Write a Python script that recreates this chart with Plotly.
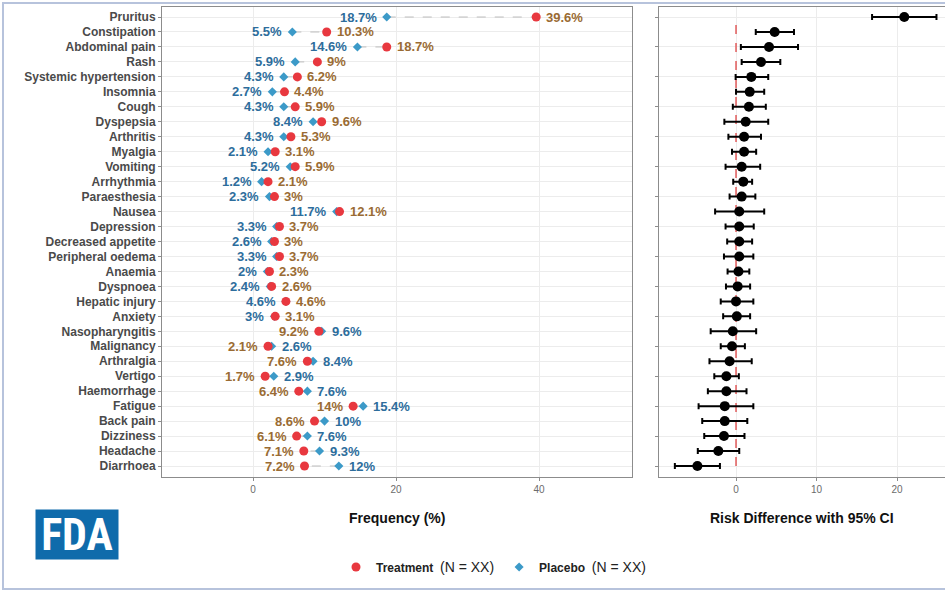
import plotly.graph_objects as go

# Adverse events, listed top to bottom
events = ["Pruritus", "Constipation", "Abdominal pain", "Rash", "Systemic hypertension",
          "Insomnia", "Cough", "Dyspepsia", "Arthritis", "Myalgia", "Vomiting",
          "Arrhythmia", "Paraesthesia", "Nausea", "Depression", "Decreased appetite",
          "Peripheral oedema", "Anaemia", "Dyspnoea", "Hepatic injury", "Anxiety",
          "Nasopharyngitis", "Malignancy", "Arthralgia", "Vertigo", "Haemorrhage",
          "Fatigue", "Back pain", "Dizziness", "Headache", "Diarrhoea"]

# Frequency (%) by arm
treatment = [39.6, 10.3, 18.7, 9, 6.2, 4.4, 5.9, 9.6, 5.3, 3.1, 5.9, 2.1, 3, 12.1, 3.7, 3,
             3.7, 2.3, 2.6, 4.6, 3.1, 9.2, 2.1, 7.6, 1.7, 6.4, 14, 8.6, 6.1, 7.1, 7.2]
placebo = [18.7, 5.5, 14.6, 5.9, 4.3, 2.7, 4.3, 8.4, 4.3, 2.1, 5.2, 1.2, 2.3, 11.7, 3.3, 2.6,
           3.3, 2, 2.4, 4.6, 3, 9.6, 2.6, 8.4, 2.9, 7.6, 15.4, 10, 7.6, 9.3, 12]

# 95% confidence limits of the risk difference (treatment - placebo)
ci_low = [16.9, 2.45, 0.6, 0.7, -0.05, 0.0, -0.4, -1.45, -0.95, -0.5, -1.3, -0.35, -0.8,
          -2.6, -1.3, -1.1, -1.5, -1.05, -1.25, -1.9, -1.6, -3.15, -1.9, -3.3, -2.7, -3.5,
          -4.65, -4.2, -3.95, -4.75, -7.6]
ci_high = [24.9, 7.2, 7.7, 5.5, 4.0, 3.5, 3.7, 4.0, 3.1, 2.5, 3.0, 2.0, 2.4, 3.5, 2.2, 2.0,
           2.15, 1.65, 1.75, 2.15, 1.75, 2.5, 1.1, 1.95, 0.35, 1.3, 2.15, 1.4, 1.05, 0.4, -2.0]

risk_diff = [round(t - p, 2) for t, p in zip(treatment, placebo)]

FONT = "Liberation Sans, Arial, sans-serif"
RED = "#e8383f"
BLUE = "#3c9ac8"
LBL_T = "#9a6b33"
LBL_P = "#2d6d9c"
W, H = 945, 594


def px(x):
    return x / W


def py(y):
    return 1 - y / H


fig = go.Figure()

# dashed connectors between the two arms
cx, cy = [], []
for e, t, p in zip(events, treatment, placebo):
    cx += [p, t, None]
    cy += [e, e, None]
fig.add_trace(go.Scatter(x=cx, y=cy, mode="lines", showlegend=False, hoverinfo="skip",
                         line=dict(color="#bdbdbd", width=1, dash="dash"),
                         xaxis="x", yaxis="y"))

fig.add_trace(go.Scatter(x=placebo, y=events, mode="markers", xaxis="x", yaxis="y",
                         name="<b>Placebo</b>  <span style='font-size:14px;font-weight:normal'>(N = XX)</span>",
                         marker=dict(symbol="diamond", size=7, color=BLUE)))
fig.add_trace(go.Scatter(x=treatment, y=events, mode="markers", xaxis="x", yaxis="y",
                         name="<b>Treatment</b>  <span style='font-size:14px;font-weight:normal'>(N = XX)</span>",
                         marker=dict(symbol="circle", size=9, color=RED)))

# risk difference panel
fig.add_trace(go.Scatter(x=[0, 0], y=[events[-1], events[0]], mode="lines", showlegend=False,
                         hoverinfo="skip", xaxis="x2", yaxis="y2",
                         line=dict(color="#e05a5a", width=1.5, dash="dash")))
fig.add_trace(go.Scatter(
    x=risk_diff, y=events, mode="markers", showlegend=False, xaxis="x2", yaxis="y2",
    marker=dict(size=10, color="black"),
    error_x=dict(type="data", symmetric=False,
                 array=[h - d for h, d in zip(ci_high, risk_diff)],
                 arrayminus=[d - l for d, l in zip(risk_diff, ci_low)],
                 color="black", thickness=2, width=3)))

# value labels: lower value on the left, higher value on the right
ann = []
for e, t, p in zip(events, treatment, placebo):
    t_left = t < p
    for v, col, left in ((p, LBL_P, not t_left), (t, LBL_T, t_left)):
        ann.append(dict(x=v, y=e, xref="x", yref="y", text=f"<b>{v:g}%</b>", showarrow=False,
                        xanchor="right" if left else "left", xshift=-8 if left else 8,
                        font=dict(family=FONT, size=13, color=col)))

ann.append(dict(x=px(397), y=py(518), xref="paper", yref="paper", text="<b>Frequency (%)</b>",
                showarrow=False, xanchor="center", yanchor="middle",
                font=dict(family=FONT, size=14, color="#111")))
ann.append(dict(x=px(802), y=py(518), xref="paper", yref="paper",
                text="<b>Risk Difference with 95% CI</b>", xanchor="center", yanchor="middle",
                showarrow=False, font=dict(family=FONT, size=14, color="#111")))
# FDA logo block
ann.append(dict(x=px(77), y=py(534.5), xref="paper", yref="paper", text="<b>FDA</b>",
                showarrow=False, xanchor="center", yanchor="middle",
                width=78, height=45, bgcolor="#0f6bab", borderpad=2,
                font=dict(family="Liberation Sans Narrow, Arial Narrow, Roboto Condensed, Liberation Sans",
                          size=44, color="white")))

# y positions: rows every ~15px, plot spans 7..477
n = len(events)
yr = [-0.735, n - 1 + 0.67]
cat = events[::-1]

axis_common = dict(showline=True, mirror=True, linecolor="#8c8c8c", linewidth=1,
                   gridcolor="#ececec", zeroline=False, ticks="outside", ticklen=3,
                   tickcolor="#8c8c8c", automargin=False)

fig.update_layout(
    width=W, height=H, margin=dict(l=0, r=0, t=0, b=0),
    paper_bgcolor="white", plot_bgcolor="white",
    font=dict(family=FONT),
    annotations=ann,
    xaxis=dict(domain=[px(162), px(632)], range=[-12.73, 53.0], anchor="y",
               tickvals=[0, 20, 40], tickfont=dict(size=10, color="#6b6b6b"), **axis_common),
    yaxis=dict(domain=[py(477), py(7)], anchor="x", type="category", categoryorder="array",
               categoryarray=cat, range=yr,
               tickfont=dict(size=12, color="#4a4a4a"), **axis_common),
    xaxis2=dict(domain=[px(659), 1.0], range=[-9.57, 25.96], anchor="y2",
                tickvals=[0, 10, 20], tickfont=dict(size=10, color="#6b6b6b"), **axis_common),
    yaxis2=dict(domain=[py(477), py(7)], anchor="x2", type="category", categoryorder="array",
                categoryarray=cat, range=yr, showticklabels=False, **axis_common),
    legend=dict(orientation="h", x=px(336), xanchor="left", y=py(567), yanchor="middle",
                font=dict(family=FONT, size=12, color="#222"), traceorder="reversed",
                bgcolor="rgba(0,0,0,0)"),
    shapes=[
        dict(type="rect", xref="paper", yref="paper", x0=px(3), x1=px(952), y0=py(589), y1=py(3),
             fillcolor="rgba(0,0,0,0)", line=dict(color="#b7c3dc", width=2)),
    ],
)

# bold category labels
fig.update_yaxes(ticktext=[f"<b>{c}</b>" for c in cat], tickvals=cat, selector=dict(anchor="x"))

fig.write_html("out.html")
